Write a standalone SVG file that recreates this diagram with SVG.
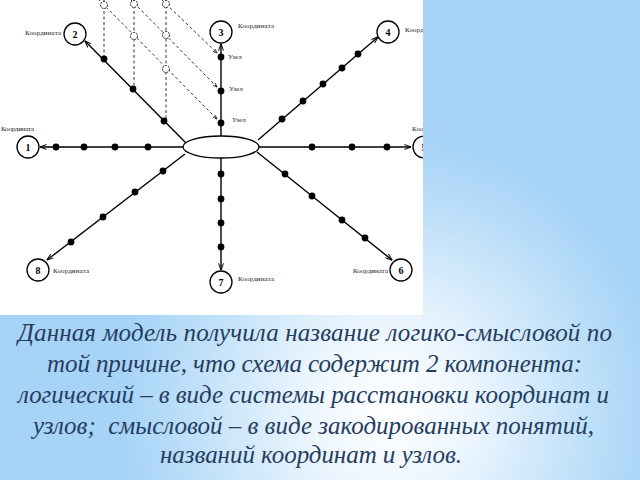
<svg xmlns="http://www.w3.org/2000/svg" width="640" height="480" viewBox="0 0 640 480">
<defs>
<radialGradient id="glow" gradientUnits="userSpaceOnUse" cx="390" cy="410" r="270">
<stop offset="0" stop-color="#ffffff"/>
<stop offset="0.3" stop-color="#edf6fe"/>
<stop offset="0.75" stop-color="#bddff9"/>
<stop offset="1" stop-color="#a7d3f6"/>
</radialGradient>
<clipPath id="panel"><rect x="0" y="0" width="423" height="315"/></clipPath>
<marker id="arr" viewBox="0 0 10 8" refX="9.5" refY="4" markerWidth="7" markerHeight="5.6" orient="auto" markerUnits="userSpaceOnUse">
<path d="M0,0.5 L10,4 L0,7.5" fill="none" stroke="#000" stroke-width="1.4"/>
</marker>
<marker id="arrs" viewBox="0 0 10 8" refX="9.5" refY="4" markerWidth="5" markerHeight="4" orient="auto" markerUnits="userSpaceOnUse">
<path d="M0,0.5 L10,4 L0,7.5" fill="none" stroke="#000" stroke-width="1.4"/>
</marker>
</defs>
<style>
.axis{stroke:#000;stroke-width:1.4;fill:none;marker-end:url(#arr)}
.dash{stroke:#000;stroke-width:0.8;stroke-dasharray:3 2.5;fill:none}
.dasha{stroke:#000;stroke-width:0.8;stroke-dasharray:3 2.5;fill:none;marker-end:url(#arrs)}
.dot{fill:#000}
.hol{fill:#fff;stroke:#000;stroke-width:0.9;stroke-dasharray:2 1}
.node{fill:#fff;stroke:#000;stroke-width:1.3}
.num{font-family:"Liberation Serif",serif;font-weight:bold;font-size:10px;text-anchor:middle;fill:#000}
.lbl{font-family:"Liberation Serif",serif;font-size:7px;fill:#222}
.cap{font-family:"Liberation Serif",serif;font-style:italic;font-size:25px;fill:#253d5f}
</style>
<rect x="0" y="0" width="640" height="480" fill="#a7d3f6"/>
<rect x="0" y="0" width="640" height="480" fill="url(#glow)"/>
<path d="M423,122 C480,130 520,145 560,168 L640,168 L640,0 L423,0 Z" fill="#a7d3f6" opacity="0.75"/>
<rect x="0" y="0" width="423" height="315" fill="#ffffff"/>
<g clip-path="url(#panel)">
<g id="connectors">
<line class="axis" x1="185" y1="147" x2="40" y2="147"/>
<line class="axis" x1="257" y1="147" x2="411" y2="147"/>
<line class="axis" x1="221" y1="137" x2="221" y2="44"/>
<line class="axis" x1="221" y1="157" x2="221" y2="270"/>
<line class="axis" x1="186" y1="143" x2="85" y2="41"/>
<line class="axis" x1="258" y1="140" x2="378" y2="37"/>
<line class="axis" x1="185" y1="154" x2="47" y2="260"/>
<line class="axis" x1="257" y1="152" x2="392" y2="260"/>
<line class="dash" x1="104" y1="0" x2="104" y2="56"/>
<line class="dash" x1="134" y1="0" x2="134" y2="86"/>
<line class="dash" x1="166" y1="0" x2="166" y2="119"/>
<line class="dasha" x1="98" y1="-1" x2="217" y2="119"/>
<line class="dasha" x1="130" y1="-1" x2="217" y2="87"/>
<line class="dasha" x1="162" y1="0" x2="217" y2="53"/>
</g>
<g id="hollow-nodes">
<circle class="hol" cx="104" cy="5" r="3.5"/>
<circle class="hol" cx="134" cy="4" r="3.5"/>
<circle class="hol" cx="166" cy="4" r="3.5"/>
<circle class="hol" cx="134" cy="36" r="3.5"/>
<circle class="hol" cx="166" cy="35" r="3.5"/>
<circle class="hol" cx="166" cy="69" r="3.5"/>
</g>
<g id="knots">
<circle class="dot" cx="56" cy="147" r="3.4"/>
<circle class="dot" cx="84" cy="147" r="3.4"/>
<circle class="dot" cx="115" cy="147" r="3.4"/>
<circle class="dot" cx="148" cy="147" r="3.4"/>
<circle class="dot" cx="312" cy="147" r="3.4"/>
<circle class="dot" cx="352" cy="147" r="3.4"/>
<circle class="dot" cx="387" cy="147" r="3.4"/>
<circle class="dot" cx="221" cy="57" r="3.4"/>
<circle class="dot" cx="221" cy="91" r="3.4"/>
<circle class="dot" cx="221" cy="123" r="3.4"/>
<circle class="dot" cx="221" cy="174" r="3.4"/>
<circle class="dot" cx="221" cy="199" r="3.4"/>
<circle class="dot" cx="221" cy="223" r="3.4"/>
<circle class="dot" cx="221" cy="247" r="3.4"/>
<circle class="dot" cx="104" cy="59" r="3.4"/>
<circle class="dot" cx="133" cy="89" r="3.4"/>
<circle class="dot" cx="164" cy="121" r="3.4"/>
<circle class="dot" cx="282" cy="119" r="3.4"/>
<circle class="dot" cx="303" cy="101" r="3.4"/>
<circle class="dot" cx="323" cy="84" r="3.4"/>
<circle class="dot" cx="342" cy="68" r="3.4"/>
<circle class="dot" cx="358" cy="54" r="3.4"/>
<circle class="dot" cx="163" cy="171" r="3.4"/>
<circle class="dot" cx="135" cy="192" r="3.4"/>
<circle class="dot" cx="103" cy="217" r="3.4"/>
<circle class="dot" cx="71" cy="242" r="3.4"/>
<circle class="dot" cx="285" cy="174" r="3.4"/>
<circle class="dot" cx="312" cy="196" r="3.4"/>
<circle class="dot" cx="342" cy="220" r="3.4"/>
<circle class="dot" cx="365" cy="238" r="3.4"/>
<text class="lbl" x="228" y="59">Узел</text>
<text class="lbl" x="229" y="91">Узел</text>
<text class="lbl" x="232" y="122">Узел</text>
</g>
<g id="center"><ellipse class="node" cx="221" cy="147" rx="38" ry="11"/></g>
<g id="n1"><circle class="node" cx="28" cy="147" r="11"/><text class="num" x="28" y="151">1</text><text class="lbl" x="1" y="131" textLength="33">Координата</text></g>
<g id="n2"><circle class="node" cx="75" cy="34" r="11"/><text class="num" x="75" y="38">2</text><text class="lbl" x="25" y="35" textLength="36">Координата</text></g>
<g id="n3"><circle class="node" cx="221" cy="32" r="11"/><text class="num" x="221" y="36">3</text><text class="lbl" x="238" y="28" textLength="36">Координата</text></g>
<g id="n4"><circle class="node" cx="388" cy="32" r="11"/><text class="num" x="388" y="36">4</text><text class="lbl" x="405" y="32" textLength="36">Координата</text></g>
<g id="n5"><circle class="node" cx="424" cy="147" r="11"/><text class="num" x="424" y="151">5</text><text class="lbl" x="412" y="131" textLength="36">Координата</text></g>
<g id="n6"><circle class="node" cx="401" cy="270" r="11"/><text class="num" x="401" y="274">6</text><text class="lbl" x="353" y="273" textLength="35">Координата</text></g>
<g id="n7"><circle class="node" cx="221" cy="282" r="11"/><text class="num" x="221" y="286">7</text><text class="lbl" x="238" y="281" textLength="36">Координата</text></g>
<g id="n8"><circle class="node" cx="38" cy="270" r="11"/><text class="num" x="38" y="274">8</text><text class="lbl" x="53" y="273" textLength="36">Координата</text></g>
</g>
<g id="caption">
<text class="cap" x="18" y="341" textLength="594">Данная модель получила название логико-смысловой по</text>
<text class="cap" x="47" y="372" textLength="535">той причине, что схема содержит 2 компонента:</text>
<text class="cap" x="18" y="403" textLength="591">логический – в виде системы расстановки координат и</text>
<text class="cap" x="33" y="434" textLength="561" xml:space="preserve">узлов;  смысловой – в виде закодированных понятий,</text>
<text class="cap" x="160" y="463" textLength="302">названий координат и узлов.</text>
</g>
</svg>
